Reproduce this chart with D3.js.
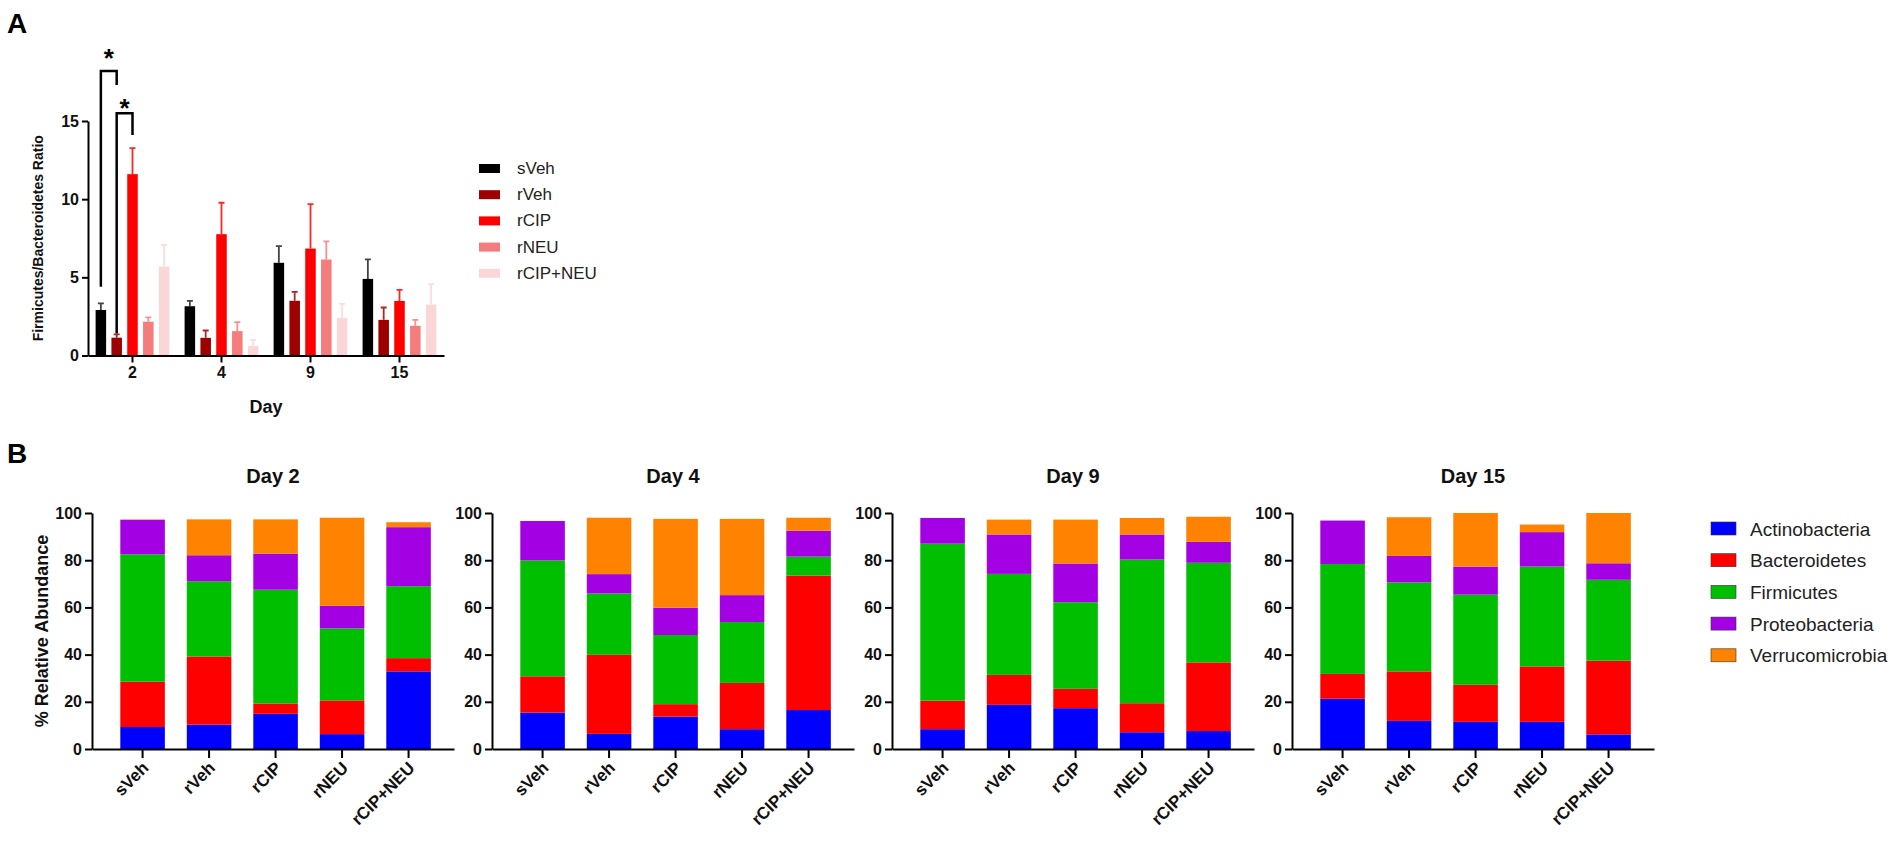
<!DOCTYPE html>
<html>
<head>
<meta charset="utf-8">
<script src="https://cdn.jsdelivr.net/npm/d3@7"></script>
<style>
  body { margin: 0; background: #fff; }
  svg { display: block; font-family: "Liberation Sans", Arial, sans-serif; }
</style>
</head>
<body>
<script>
/* global d3 */

// ---- data ----
const days = ["2", "4", "9", "15"];
const groups = ["sVeh", "rVeh", "rCIP", "rNEU", "rCIP+NEU"];
const groupColors = ["#000000", "#9c0000", "#ff0000", "#f47c7c", "#fbd6d6"];

// Firmicutes/Bacteroidetes ratio, mean and SEM per day (2, 4, 9, 15)
const ratioMean = {
  "sVeh":     [2.91, 3.15, 5.93, 4.90],
  "rVeh":     [1.14, 1.13, 3.50, 2.28],
  "rCIP":     [11.6, 7.76, 6.84, 3.49],
  "rNEU":     [2.16, 1.56, 6.14, 1.90],
  "rCIP+NEU": [5.68, 0.60, 2.39, 3.26]
};
const ratioSem = {
  "sVeh":     [0.43, 0.35, 1.07, 1.25],
  "rVeh":     [0.21, 0.47, 0.57, 0.79],
  "rCIP":     [1.66, 2.01, 2.84, 0.71],
  "rNEU":     [0.28, 0.57, 1.16, 0.38],
  "rCIP+NEU": [1.39, 0.40, 0.91, 1.31]
};
// significance brackets on day 2 (values in ratio units)
const brackets = [
  { day: "2", a: "sVeh", b: "rVeh", top: 18.2, aEnd: 4.4, bEnd: 17.3, star: 19.35 },
  { day: "2", a: "rVeh", b: "rCIP", top: 15.5, aEnd: 1.4, bEnd: 14.1, star: 16.15 }
];

const phyla = ["Actinobacteria", "Bacteroidetes", "Firmicutes", "Proteobacteria", "Verrucomicrobia"];
const phylaColors = ["#0000ff", "#ff0000", "#00bf00", "#a300e3", "#ff8200"];

// % relative abundance, one row per group, columns in phyla order
const abundanceDay2 = [
  [9.3, 19.2, 54.0, 14.6, 0.2],
  [10.3, 28.9, 31.9, 11.0, 15.2],
  [14.9, 4.4, 48.2, 15.3, 14.5],
  [6.3, 14.3, 30.5, 9.6, 37.3],
  [32.9, 5.6, 30.5, 25.0, 2.1]
];
const abundanceDay4 = [
  [15.4, 15.4, 49.1, 16.7, 0],
  [6.4, 33.5, 26.0, 8.2, 23.9],
  [13.7, 5.3, 29.3, 11.6, 37.6],
  [8.4, 19.6, 25.8, 11.4, 32.3],
  [16.5, 57.0, 8.0, 11.0, 5.5]
];
const abundanceDay9 = [
  [8.4, 12.1, 66.5, 10.9, 0],
  [18.7, 12.7, 42.8, 16.7, 6.3],
  [17.3, 8.2, 36.7, 16.4, 18.6],
  [7.1, 12.3, 60.9, 10.6, 7.0],
  [7.6, 29.1, 42.2, 8.9, 10.6]
];
const abundanceDay15 = [
  [21.3, 10.5, 46.6, 18.4, 0],
  [11.9, 21.0, 37.7, 11.2, 16.4],
  [11.5, 15.7, 38.2, 11.9, 22.7],
  [11.5, 23.5, 42.3, 14.6, 3.2],
  [6.2, 31.2, 34.3, 7.0, 21.3]
];
const abundance = [abundanceDay2, abundanceDay4, abundanceDay9, abundanceDay15];

// ---- chart ----
const width = 1902, height = 847;
const svg = d3.select("body").append("svg")
  .attr("width", width).attr("height", height);

function styleAxis(g, size) {
  g.selectAll("path, line").attr("stroke", "#000").attr("stroke-width", 2);
  g.selectAll("text").attr("font-size", size).attr("font-weight", "bold").attr("fill", "#111");
}

// ===== Panel A =====
svg.append("text").attr("x", 7).attr("y", 33)
  .attr("font-size", 28).attr("font-weight", "bold").text("A");

const yA = d3.scaleLinear().domain([0, 15]).range([355.5, 121]);
const xA = d3.scaleBand().domain(days).range([88, 444]);
const xInner = d3.scaleBand().domain(groups).range([-36.9, 36.9]).paddingInner(0.335);
const colorA = d3.scaleOrdinal(groups, groupColors);

const gA = svg.append("g");
const barsA = [];
groups.forEach(g => days.forEach((d, i) => {
  barsA.push({ group: g, day: d, mean: ratioMean[g][i], sem: ratioSem[g][i] });
}));
const cx = b => xA(b.day) + xA.bandwidth() / 2 + xInner(b.group) + xInner.bandwidth() / 2;

// error bars behind bars
gA.selectAll(".err").data(barsA).enter().append("path")
  .attr("class", "err")
  .attr("d", b => {
    const x = cx(b), y1 = yA(b.mean), y2 = yA(b.mean + b.sem);
    return `M${x},${y1}V${y2}M${x - 3},${y2}H${x + 3}`;
  })
  .attr("stroke", b => b.group === "sVeh" ? "#222" : colorA(b.group))
  .attr("stroke-opacity", 0.85)
  .attr("stroke-width", 1.8)
  .attr("fill", "none");

gA.selectAll(".bar").data(barsA).enter().append("rect")
  .attr("class", "bar")
  .attr("x", b => cx(b) - xInner.bandwidth() / 2)
  .attr("width", xInner.bandwidth())
  .attr("y", b => yA(b.mean))
  .attr("height", b => yA(0) - yA(b.mean))
  .attr("fill", b => colorA(b.group));

gA.append("g").attr("transform", `translate(88,0)`)
  .call(d3.axisLeft(yA).tickValues([0, 5, 10, 15]).tickSize(6).tickPadding(3).tickSizeOuter(0))
  .call(g => styleAxis(g, 16));
gA.append("g").attr("transform", `translate(0,${yA(0)})`)
  .call(d3.axisBottom(xA).tickSize(7).tickPadding(4).tickSizeOuter(0))
  .call(g => styleAxis(g, 16));

svg.append("text")
  .attr("transform", `translate(43,${(yA(0) + yA(15)) / 2}) rotate(-90)`)
  .attr("text-anchor", "middle").attr("font-size", 14).attr("font-weight", "bold")
  .attr("fill", "#111").text("Firmicutes/Bacteroidetes Ratio");
svg.append("text").attr("x", 266).attr("y", 413)
  .attr("text-anchor", "middle").attr("font-size", 18).attr("font-weight", "bold")
  .attr("fill", "#111").text("Day");

// significance brackets
const bx = (day, g) => xA(day) + xA.bandwidth() / 2 + xInner(g) + xInner.bandwidth() / 2;
brackets.forEach(br => {
  const xa = bx(br.day, br.a), xb = bx(br.day, br.b);
  gA.append("path")
    .attr("d", `M${xa},${yA(br.aEnd)}V${yA(br.top)}H${xb}V${yA(br.bEnd)}`)
    .attr("fill", "none").attr("stroke", "#000").attr("stroke-width", 2.5);
  gA.append("text").attr("x", (xa + xb) / 2).attr("y", yA(br.star) + 14)
    .attr("text-anchor", "middle").attr("font-size", 26).attr("font-weight", "bold")
    .text("*");
});

// legend A
const legA = svg.append("g").attr("transform", "translate(479,164)");
groups.forEach((g, i) => {
  const row = legA.append("g").attr("transform", `translate(0,${i * 26.2})`);
  row.append("rect").attr("width", 21).attr("height", 9).attr("fill", colorA(g));
  row.append("text").attr("x", 38).attr("y", 10).attr("font-size", 17)
    .attr("fill", "#222").text(g);
});

// ===== Panel B =====
svg.append("text").attr("x", 7).attr("y", 463)
  .attr("font-size", 28).attr("font-weight", "bold").text("B");

const panelX = d3.scaleBand().domain(days).range([92, 1692]);
const yB = d3.scaleLinear().domain([0, 100]).range([749, 513]);
const colorB = d3.scaleOrdinal(phyla, phylaColors);
const stack = d3.stack().keys(phyla);

days.forEach((day, di) => {
  const x0 = panelX(day) + [0, -1, 5, 0][di] * 0;
  const pw = 362;
  const xB = d3.scaleBand().domain(groups).range([0, pw])
    .paddingInner(0.33).paddingOuter(0.387).align(0.55);
  const g = svg.append("g").attr("transform", `translate(${x0},0)`);

  const rows = abundance[di].map((r, gi) => {
    const o = { group: groups[gi] };
    phyla.forEach((p, pi) => { o[p] = r[pi]; });
    return o;
  });
  const series = stack(rows);

  g.selectAll(".layer").data(series).enter().append("g")
    .attr("fill", s => colorB(s.key))
    .selectAll("rect").data(s => s).enter().append("rect")
    .attr("x", d => xB(d.data.group))
    .attr("width", xB.bandwidth())
    .attr("y", d => yB(d[1]))
    .attr("height", d => yB(d[0]) - yB(d[1]));

  g.append("g")
    .call(d3.axisLeft(yB).tickValues([0, 20, 40, 60, 80, 100]).tickSize(7).tickPadding(3).tickSizeOuter(0))
    .call(a => styleAxis(a, 16));
  const xa = g.append("g").attr("transform", `translate(0,${yB(0)})`)
    .call(d3.axisBottom(xB).tickSize(9).tickSizeOuter(0))
    .call(a => styleAxis(a, 17));
  xa.selectAll(".tick text")
    .attr("y", 0).attr("dy", 0)
    .attr("text-anchor", "end")
    .attr("transform", "translate(7,20) rotate(-45)");

  g.append("text").attr("x", pw / 2).attr("y", 483)
    .attr("text-anchor", "middle").attr("font-size", 20).attr("font-weight", "bold")
    .attr("fill", "#111").text("Day " + day);
});

svg.append("text")
  .attr("transform", `translate(48,${(yB(0) + yB(100)) / 2}) rotate(-90)`)
  .attr("text-anchor", "middle").attr("font-size", 18).attr("font-weight", "bold")
  .attr("fill", "#111").text("% Relative Abundance");

// legend B
const legB = svg.append("g").attr("transform", "translate(1711,522)");
phyla.forEach((p, i) => {
  const row = legB.append("g").attr("transform", `translate(0,${i * 31.7})`);
  row.append("rect").attr("width", 25).attr("height", 13).attr("fill", colorB(p))
    .attr("stroke", "#333").attr("stroke-width", 0.6);
  row.append("text").attr("x", 39).attr("y", 13.5).attr("font-size", 19)
    .attr("fill", "#222").text(p);
});
</script>
</body>
</html>
